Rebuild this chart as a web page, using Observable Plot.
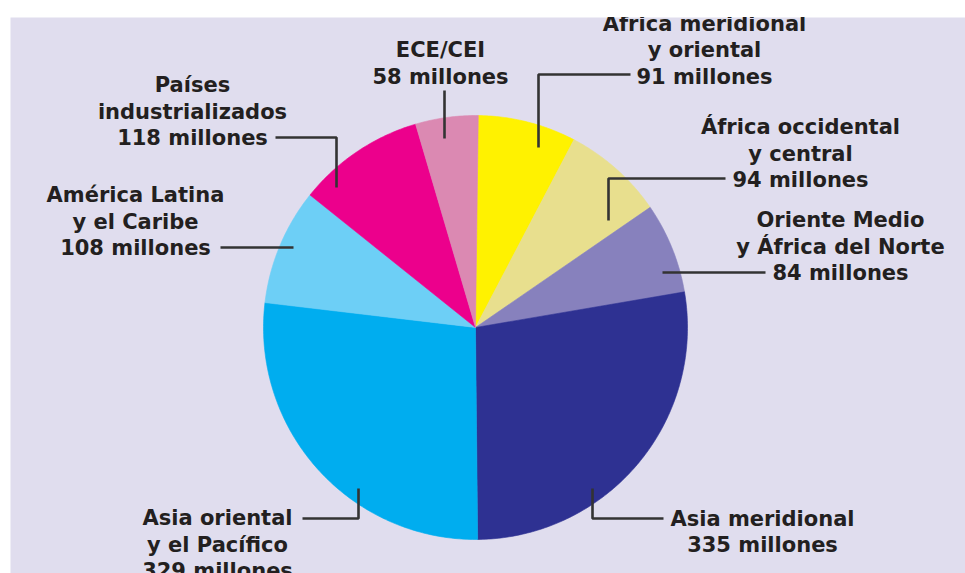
<!DOCTYPE html>
<html>
<head>
<meta charset="utf-8">
<script src="https://cdn.jsdelivr.net/npm/d3@7"></script>
<script src="https://cdn.jsdelivr.net/npm/@observablehq/plot@0.6"></script>
<style>
  html, body { margin: 0; padding: 0; background: #ffffff; }
  #chart { width: 965px; height: 573px; overflow: hidden; }
</style>
</head>
<body>
<div id="chart"></div>
<script>
// ---- Data ----
const categories = [
  "África meridional\ny oriental",
  "África occidental\ny central",
  "Oriente Medio\ny África del Norte",
  "Asia meridional",
  "Asia oriental\ny el Pacífico",
  "América Latina\ny el Caribe",
  "Países\nindustrializados",
  "ECE/CEI"
];
const values = [91, 94, 84, 335, 329, 108, 118, 58];
const unitLabel = "millones";

// ---- Styles ----
const sliceColors = ["#fff200", "#e8df8e", "#8781bd", "#2e3192", "#00adef", "#6dcff6", "#ec008c", "#db89b2"];
const bgColor = "#e0ddee";
const textColor = "#231f20";

// ---- Layout (pixel positions of pie, labels and leader lines) ----
const pieCenter = {x: 475, y: 327};
const pieRadius = 212;
const pieRotation = 0.75 * Math.PI / 180;
const labelPos = [
  {x: 704, y: 48.5},
  {x: 800, y: 152},
  {x: 840, y: 245},
  {x: 762, y: 530},
  {x: 217, y: 543},
  {x: 135, y: 220},
  {x: 192, y: 110},
  {x: 440, y: 61.5}
];
const leaderPaths = [
  [[630, 74], [538, 74], [538, 147]],
  [[725, 178], [608, 178], [608, 220]],
  [[765, 272], [662, 272]],
  [[663, 518], [592, 518], [592, 488]],
  [[302, 518], [358, 518], [358, 488]],
  [[220, 247], [293, 247]],
  [[275, 137], [336, 137], [336, 187]],
  [[444, 90], [444, 138]]
];

// ---- Build pie geometry through d3.pie ----
const arcs = d3.pie().sort(null).startAngle(pieRotation).endAngle(2 * Math.PI + pieRotation)(values);
const slices = arcs.map((a, i) => {
  const n = Math.max(8, Math.ceil((a.endAngle - a.startAngle) * 80));
  const pts = [{x: pieCenter.x, y: pieCenter.y}];
  for (let k = 0; k <= n; k++) {
    const t = a.startAngle + (a.endAngle - a.startAngle) * k / n;
    pts.push({x: pieCenter.x + pieRadius * Math.sin(t), y: pieCenter.y - pieRadius * Math.cos(t)});
  }
  pts.push({x: pieCenter.x, y: pieCenter.y});
  return {color: sliceColors[i], pts};
});

const labels = categories.map((c, i) => ({
  text: c + "\n" + values[i] + " " + unitLabel,
  x: labelPos[i].x,
  y: labelPos[i].y
}));

const leaderRows = leaderPaths.flatMap((p, i) => p.map(([x, y]) => ({id: i, x, y})));

const chart = Plot.plot({
  width: 965,
  height: 573,
  marginTop: 17,
  marginLeft: 10,
  marginRight: 0,
  marginBottom: 0,
  x: {domain: [10, 965], axis: null},
  y: {domain: [573, 17], axis: null},
  style: {background: "#ffffff", overflow: "hidden"},
  marks: [
    Plot.frame({fill: bgColor, stroke: "none"}),
    ...slices.map(s => Plot.line(s.pts, {x: "x", y: "y", fill: s.color, stroke: s.color, strokeWidth: 0.6, curve: "linear"})),
    Plot.line(leaderRows, {x: "x", y: "y", z: "id", stroke: "#333333", strokeWidth: 2.6, strokeLinejoin: "miter", strokeLinecap: "butt"}),
    Plot.text(labels, {
      x: "x", y: "y", text: "text",
      textAnchor: "middle", lineAnchor: "middle", lineHeight: 1.262,
      fontSize: 21, fontWeight: "bold", fontFamily: "DejaVu Sans",
      fill: textColor, clip: true
    })
  ]
});
document.getElementById("chart").appendChild(chart);
</script>
</body>
</html>
